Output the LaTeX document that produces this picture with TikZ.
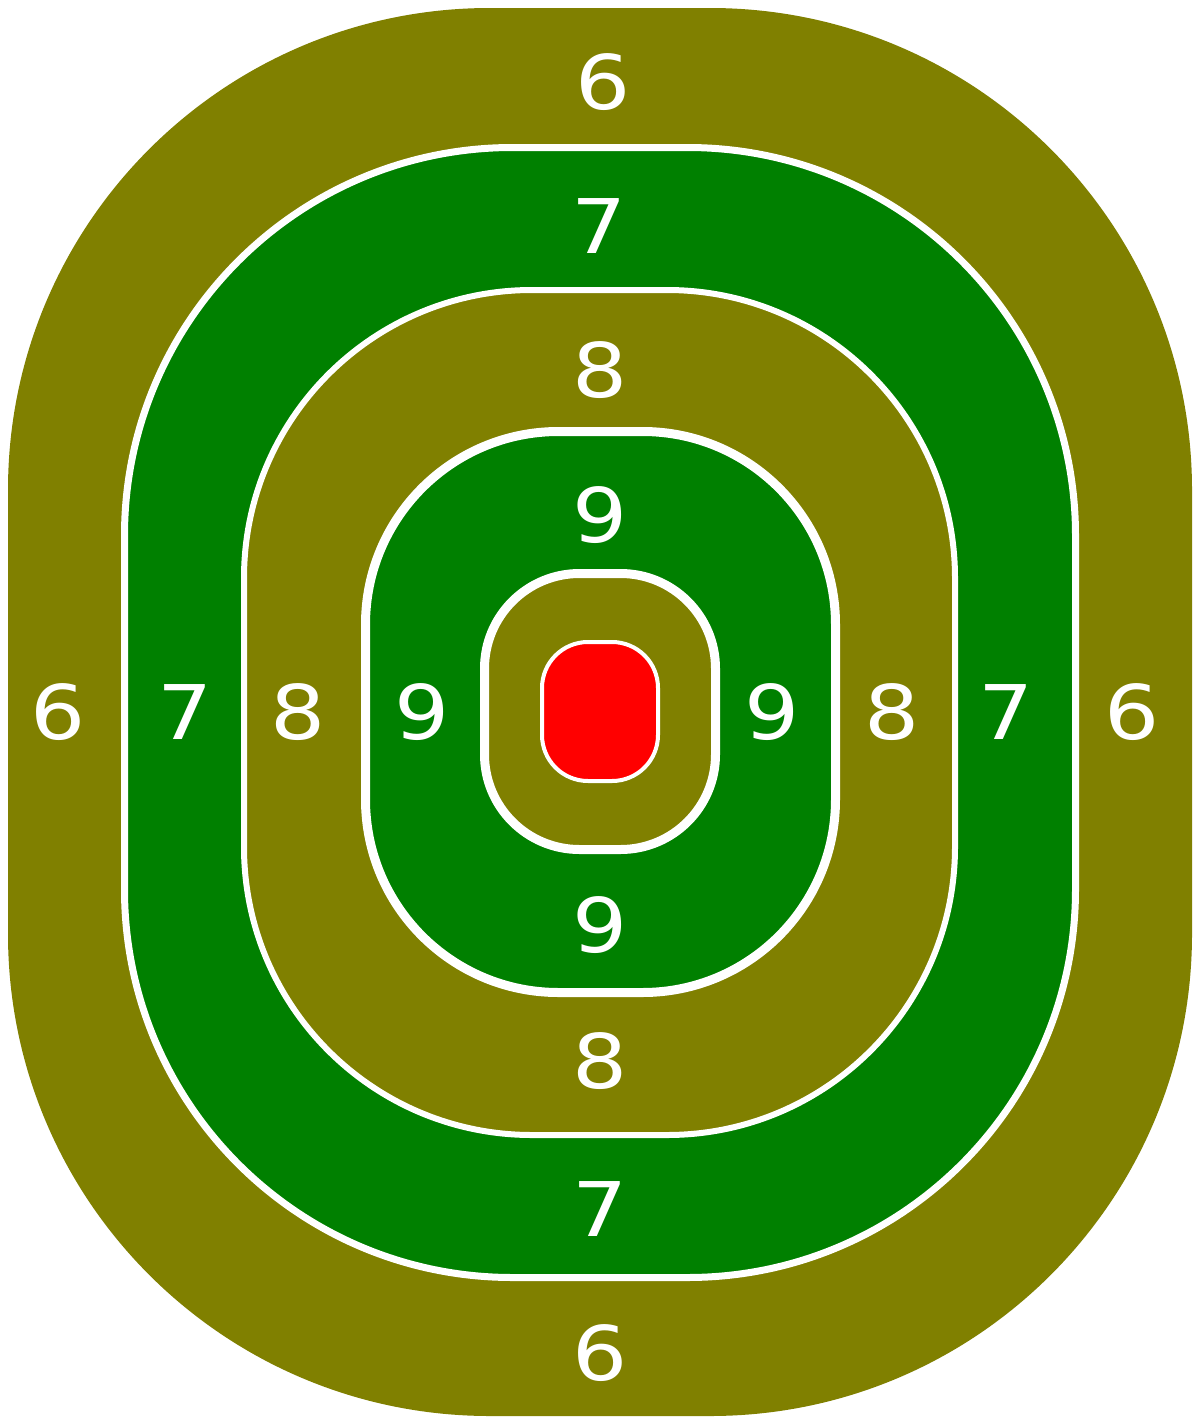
\documentclass[tikz,border=0pt]{standalone}
\usepackage{fontspec}
\newfontfamily\ringfont{DejaVu Sans}[FakeStretch=1.15]
\usepackage{xcolor}
\usepackage{tikz}

\definecolor{olivering}{HTML}{808000}
\definecolor{greenring}{HTML}{008000}
\definecolor{redcenter}{HTML}{FF0000}

\begin{document}
\begin{tikzpicture}[x=0.5pt, y=-0.5pt,
    ring/.style={draw=white, line join=round},
    score/.style={text=white, inner sep=0pt, font=\ringfont\fontsize{37.7}{40}\selectfont}]
    \useasboundingbox (0,0) rectangle (1200,1424);
    \fill[white] (0,0) rectangle (1200,1424);

    % Draw the rings, outside first (radii and widths in pt, half the pixel size)
    \fill[olivering, rounded corners=241pt] (8,8) rectangle (1192,1416);
    \filldraw[ring, fill=greenring, line width=3.5pt, rounded corners=194pt] (124.5,147.5) rectangle (1075.5,1277.5);
    \filldraw[ring, fill=olivering, line width=3pt, rounded corners=144pt] (244,290) rectangle (955,1135);
    \filldraw[ring, fill=greenring, line width=4.5pt, rounded corners=96.5pt] (365.5,431.5) rectangle (835.5,992.5);
    \filldraw[ring, fill=olivering, line width=4.5pt, rounded corners=47.5pt] (484.5,573.5) rectangle (715.5,849.5);
    \filldraw[ring, fill=redcenter, line width=2pt, rounded corners=23pt] (542,642) rectangle (658,781);

    % Place scores along the vertical axis
    \node[score] (top6) at (603,82) {6};
    \node[score] (top7) at (599,226) {7};
    \node[score] (top8) at (600,370) {8};
    \node[score] (top9) at (600,515) {9};
    \node[score] (bot9) at (600,925) {9};
    \node[score] (bot8) at (600,1061) {8};
    \node[score] (bot7) at (600,1209) {7};
    \node[score] (bot6) at (600,1353) {6};

    % Place scores along the horizontal axis
    \node[score] (left6) at (58,712) {6};
    \node[score] (left7) at (185,712) {7};
    \node[score] (left8) at (298,712) {8};
    \node[score] (left9) at (422,712) {9};
    \node[score] (right9) at (772,712) {9};
    \node[score] (right8) at (892,712) {8};
    \node[score] (right7) at (1006,712) {7};
    \node[score] (right6) at (1132,712) {6};
\end{tikzpicture}
\end{document}
